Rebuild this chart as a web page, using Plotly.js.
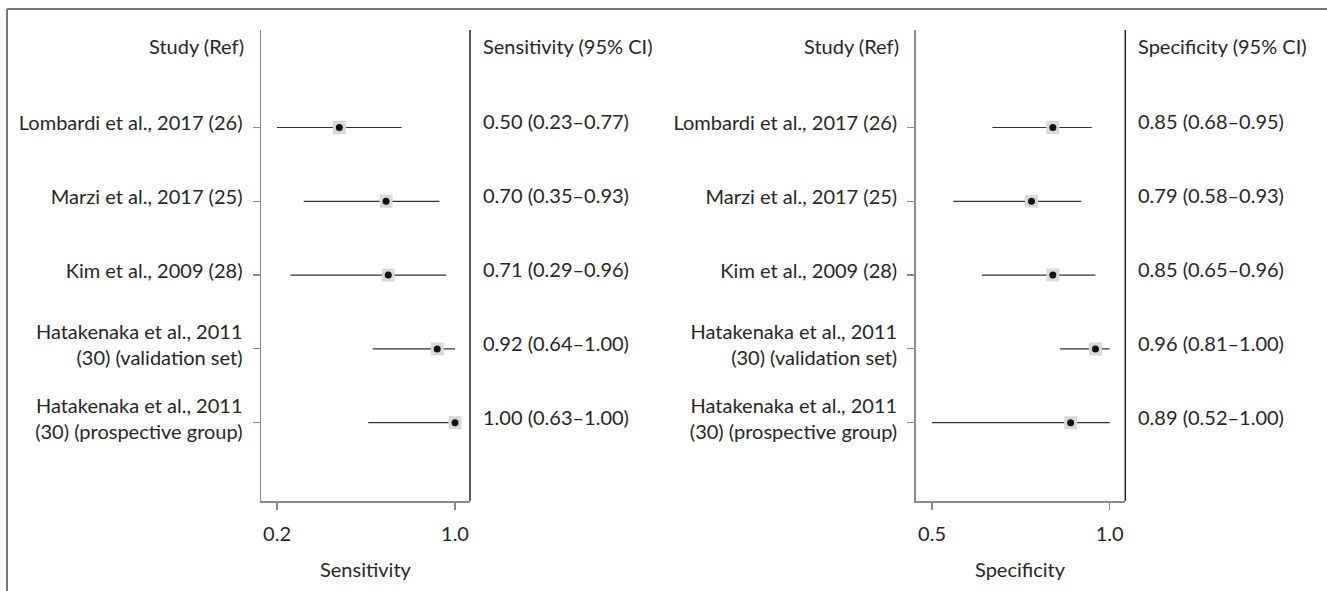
<!DOCTYPE html>
<html>
<head>
<meta charset="utf-8">
<script src="https://cdn.plot.ly/plotly-3.0.1.min.js"></script>
<style>html,body{margin:0;padding:0;background:#fff;}#chart{width:1327px;height:591px;}</style>
</head>
<body>
<div id="chart"></div>
<script>
// ---- data ----
const studies = [
  "Lombardi et al., 2017 (26)",
  "Marzi et al., 2017 (25)",
  "Kim et al., 2009 (28)",
  "Hatakenaka et al., 2011<br>(30) (validation set)",
  "Hatakenaka et al., 2011<br>(30) (prospective group)"
];
const rows = [1, 2, 3, 4, 5];

// plotted positions (as drawn in the figure)
const sensEst = [0.48, 0.69, 0.70, 0.92, 1.00];
const sensLo  = [0.20, 0.32, 0.26, 0.63, 0.61];
const sensHi  = [0.76, 0.93, 0.96, 1.00, 1.00];
const specEst = [0.84, 0.78, 0.84, 0.96, 0.89];
const specLo  = [0.67, 0.56, 0.64, 0.86, 0.50];
const specHi  = [0.95, 0.92, 0.96, 1.00, 1.00];

// reported values (text column)
const sensText = ["0.50 (0.23–0.77)", "0.70 (0.35–0.93)", "0.71 (0.29–0.96)", "0.92 (0.64–1.00)", "1.00 (0.63–1.00)"];
const specText = ["0.85 (0.68–0.95)", "0.79 (0.58–0.93)", "0.85 (0.65–0.96)", "0.96 (0.81–1.00)", "0.89 (0.52–1.00)"];

const sensTicks = [0.2, 1.0], sensTickText = ["0.2", "1.0"];
const specTicks = [0.5, 1.0], specTickText = ["0.5", "1.0"];

// ---- styling ----
const FONT = "Lato, 'Open Sans', sans-serif";
const FS = 20;
const TXT = "#262626";
const AX = "#8a8a8a";

function panel(est, lo, hi, xa, ya) {
  return [
    {
      x: est, y: rows, xaxis: xa, yaxis: ya, type: "scatter", mode: "markers",
      marker: {symbol: "square", size: 13, color: "#d9d9d9", line: {width: 0}},
      error_x: {type: "data", symmetric: false,
        array: hi.map((h, i) => h - est[i]),
        arrayminus: lo.map((l, i) => est[i] - l),
        width: 0, thickness: 1.2, color: "#333"},
      hoverinfo: "skip", showlegend: false
    },
    {
      x: est, y: rows, xaxis: xa, yaxis: ya, type: "scatter", mode: "markers",
      marker: {symbol: "circle", size: 7, color: "#111"},
      showlegend: false
    }
  ];
}

const data = [].concat(panel(sensEst, sensLo, sensHi, "x", "y"), panel(specEst, specLo, specHi, "x2", "y2"));

const W = 1327, H = 591;
const yDom = [1 - 501 / H, 1 - 30 / H];

function yAxis(anchor) {
  return {
    domain: yDom, anchor: anchor, range: [6.061, -0.321],
    tickmode: "array", tickvals: rows, ticktext: studies,
    ticks: "outside", ticklen: 7, tickwidth: 1.2, tickcolor: AX,
    showline: true, linecolor: AX, linewidth: 1.5,
    showgrid: false, zeroline: false, fixedrange: true,
    tickfont: {family: FONT, size: FS, color: TXT},
    ticklabelstandoff: 6, ticklabelshift: 4
  };
}
function xAxis(dom, range, tv, tt, anchor) {
  return {
    domain: dom, anchor: anchor, range: range,
    tickmode: "array", tickvals: tv, ticktext: tt,
    ticks: "outside", ticklen: 7, tickwidth: 1.2, tickcolor: AX,
    showline: true, linecolor: AX, linewidth: 1.5,
    showgrid: false, zeroline: false, fixedrange: true,
    tickfont: {family: FONT, size: FS, color: TXT},
    ticklabelstandoff: 7
  };
}

const annotations = [];
function colText(xref, yref, texts, header, studyHeader) {
  annotations.push({xref: xref + " domain", yref: yref, x: 0, y: -0.104, xanchor: "right", yanchor: "middle",
    xshift: -15, text: studyHeader, showarrow: false, font: {family: FONT, size: FS, color: TXT}});
  annotations.push({xref: xref + " domain", yref: yref, x: 1, y: -0.104, xanchor: "left", yanchor: "middle",
    xshift: 11, text: header, showarrow: false, font: {family: FONT, size: FS, color: TXT}});
  texts.forEach((t, i) => {
    annotations.push({xref: xref + " domain", yref: yref, x: 1, y: rows[i], xanchor: "left", yanchor: "middle",
      xshift: 11, yshift: 6, text: t, showarrow: false, font: {family: FONT, size: FS, color: TXT}});
  });
}
colText("x", "y", sensText, "Sensitivity (95% CI)", "Study (Ref)");
colText("x2", "y2", specText, "Specificity (95% CI)", "Study (Ref)");
annotations.push({xref: "x domain", yref: "paper", x: 0.5, y: 1 - 569 / H, xanchor: "center", yanchor: "middle",
  text: "Sensitivity", showarrow: false, font: {family: FONT, size: FS, color: TXT}});
annotations.push({xref: "x2 domain", yref: "paper", x: 0.5, y: 1 - 569 / H, xanchor: "center", yanchor: "middle",
  text: "Specificity", showarrow: false, font: {family: FONT, size: FS, color: TXT}});

const shapes = [
  {type: "line", xref: "paper", yref: "paper", x0: 7 / W, x1: 1, y0: 1 - 9 / H, y1: 1 - 9 / H, line: {color: "#777", width: 2}},
  {type: "line", xref: "paper", yref: "paper", x0: 7 / W, x1: 7 / W, y0: 1 - 9 / H, y1: 0, line: {color: "#777", width: 2}},
  {type: "line", xref: "x domain", yref: "y domain", x0: 1, x1: 1, y0: 0, y1: 1, line: {color: "#222", width: 1.5}},
  {type: "line", xref: "x2 domain", yref: "y2 domain", x0: 1, x1: 1, y0: 0, y1: 1, line: {color: "#222", width: 1.5}}
];

const layout = {
  width: W, height: H,
  margin: {l: 0, r: 0, t: 0, b: 0, autoexpand: false},
  paper_bgcolor: "#fff", plot_bgcolor: "#fff",
  showlegend: false,
  font: {family: FONT, size: FS, color: TXT},
  xaxis: xAxis([261 / W, 470 / W], [0.128, 1.0674], sensTicks, sensTickText, "y"),
  yaxis: yAxis("x"),
  xaxis2: xAxis([915.7 / W, 1125.3 / W], [0.454, 1.044], specTicks, specTickText, "y2"),
  yaxis2: yAxis("x2"),
  annotations: annotations,
  shapes: shapes
};

Plotly.newPlot("chart", data, layout, {displayModeBar: false, staticPlot: true});
</script>
</body>
</html>
